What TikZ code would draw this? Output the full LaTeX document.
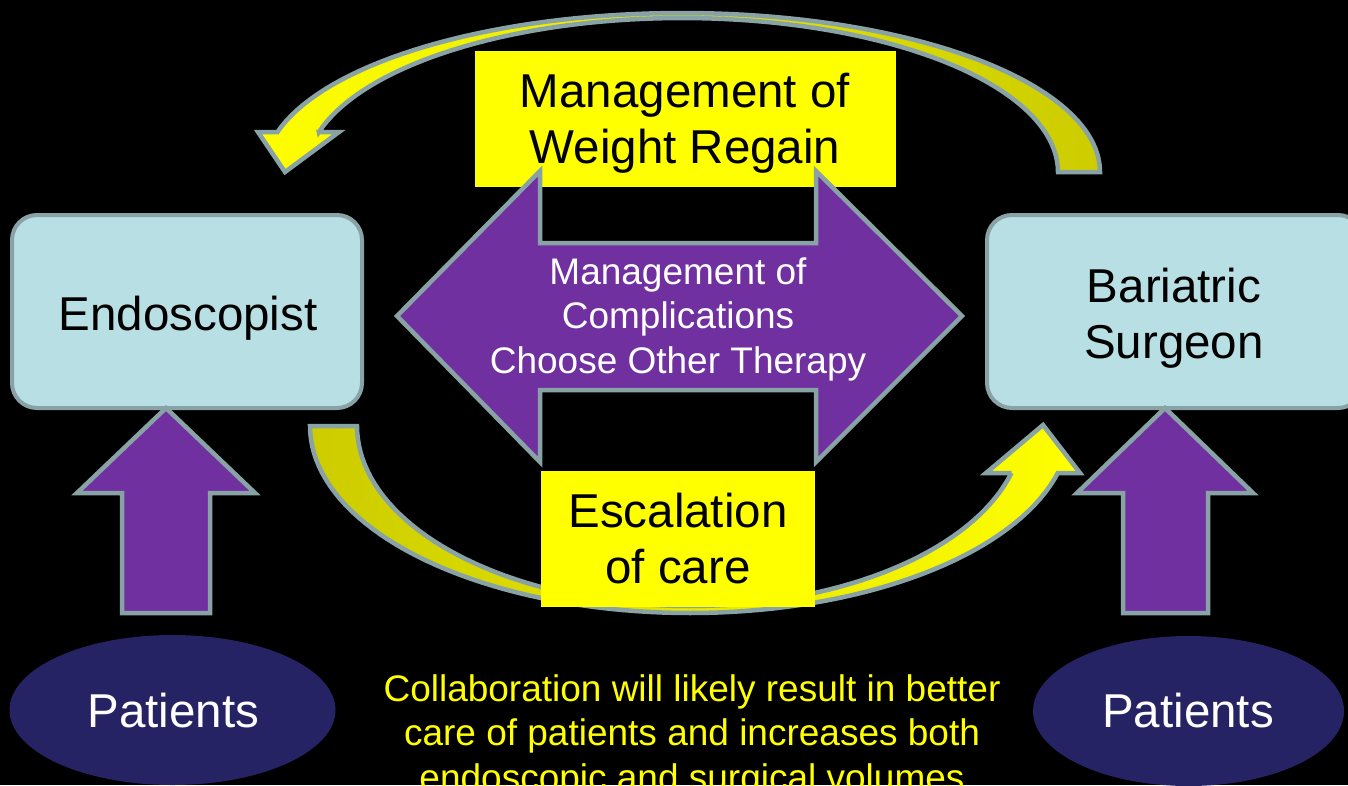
\documentclass[tikz,border=0pt]{standalone}
\usepackage{fontspec}
\setmainfont{Liberation Sans}
\usetikzlibrary{shapes.geometric}

\definecolor{edgegray}{RGB}{137,162,165}
\definecolor{paleblue}{RGB}{184,223,227}
\definecolor{arrowpurple}{RGB}{112,48,160}
\definecolor{navyfill}{RGB}{38,35,100}
\definecolor{dkyellow}{RGB}{204,204,0}
\definecolor{brightyellow}{RGB}{255,255,0}

\begin{document}
\begin{tikzpicture}[x=1pt,y=-1pt,
  bigtext/.style={font=\fontsize{47.5}{56}\selectfont, inner sep=0pt},
  smalltext/.style={font=\fontsize{37}{44.5}\selectfont, inner sep=0pt},
  rolebox/.style={draw=edgegray, line width=4pt, fill=paleblue, rounded corners=25pt,
    minimum height=193pt, inner sep=0pt},
  labelbox/.style={fill=brightyellow, inner sep=0pt, minimum height=136pt},
  bendarrow/.style={draw=edgegray, line width=4.5pt, line join=miter},
  blockarrow/.style={draw=edgegray, fill=arrowpurple, line width=4.5pt, line join=miter},
  patient/.style={ellipse, fill=navyfill, inner sep=0pt, minimum height=150pt}]

% canvas
\clip (0,0) rectangle (1348,785);
\fill[black] (0,0) rectangle (1348,785);

% curved arrow over the top: from the surgeon back to the endoscopist
\coordinate (topTail) at (1100,172);
\coordinate (topHeadL) at (258,132);
\coordinate (topTip) at (285,172);
\coordinate (topHeadR) at (339,132);
\coordinate (topNeck) at (318.9,132);
\path[bendarrow, left color=brightyellow, right color=dkyellow]
  (topTail)
  -- plot[domain=0:165.43, samples=80] ({682+418*cos(\x)},{172-159*sin(\x)})
  -- (topHeadL) -- (topTip) -- (topHeadR) -- (topNeck)
  -- plot[domain=0:164.95, samples=80] ({682+376*cos(164.95-\x)},{172-154*sin(164.95-\x)})
  -- cycle;

% curved arrow underneath: from the endoscopist on to the surgeon
\coordinate (botTail) at (310,426);
\coordinate (botHeadR) at (1080,473);
\coordinate (botTip) at (1043,425);
\coordinate (botHeadL) at (986,473);
\coordinate (botNeck) at (1011.5,473);
\path[bendarrow, left color=dkyellow, right color=brightyellow]
  (botTail)
  -- plot[domain=0:165.44, samples=80] ({690-380*cos(\x)},{426+187*sin(\x)})
  -- (botHeadR) -- (botTip) -- (botHeadL) -- (botNeck)
  -- plot[domain=0:164.86, samples=80] ({690+333*cos(15.14+\x)},{426+180*sin(15.14+\x)})
  -- cycle;

% yellow labels on the two curved arrows (multi-line text sits on its last baseline)
\node[labelbox, minimum width=421pt] (regain) at (685.5,119) {};
\node[bigtext, anchor=base, align=center] (regaintxt) at (685,163) {Management of\\Weight Regain};
\node[labelbox, minimum width=274pt] (escal) at (678,539) {};
\node[bigtext, anchor=base, align=center] (escaltxt) at (678,583) {Escalation\\of care};

% two-headed block arrow in the middle
\path[blockarrow] (397,316) -- (540,171) -- (540,243) -- (816,243) -- (816,171)
  -- (962,316) -- (816,462) -- (816,390) -- (540,390) -- (540,462) -- cycle;
\node[smalltext, text=white, anchor=base, align=center] (comptxt) at (678,373)
  {Management of\\Complications\\Choose Other Therapy};

% the two specialists
\node[rolebox, minimum width=350pt] (endo) at (187,311.5) {};
\node[bigtext, anchor=base] (endotxt) at (188,330) {Endoscopist};
\node[rolebox, minimum width=376pt] (surg) at (1175,311.5) {};
\node[bigtext, anchor=base, align=center] (surgtxt) at (1174,358) {Bariatric\\Surgeon};

% block arrows from the patients up to each specialist
\path[blockarrow] (166,408) -- (255,493) -- (210,493) -- (210,613)
  -- (122,613) -- (122,493) -- (77,493) -- cycle;
\path[blockarrow] (1165,408) -- (1253,493) -- (1208,493) -- (1208,613)
  -- (1123,613) -- (1123,493) -- (1077,493) -- cycle;

% patients
\node[patient, minimum width=326pt] (patL) at (172.5,710) {};
\node[bigtext, text=white, anchor=base] (patLtxt) at (173.5,727) {Patients};
\node[patient, minimum width=311pt] (patR) at (1188.5,711) {};
\node[bigtext, text=white, anchor=base] (patRtxt) at (1188,727) {Patients};

% closing remark
\node[smalltext, text=brightyellow, anchor=base, align=center] (remark) at (692,790)
  {Collaboration will likely result in better\\care of patients and increases both\\endoscopic and surgical volumes};

\end{tikzpicture}
\end{document}
